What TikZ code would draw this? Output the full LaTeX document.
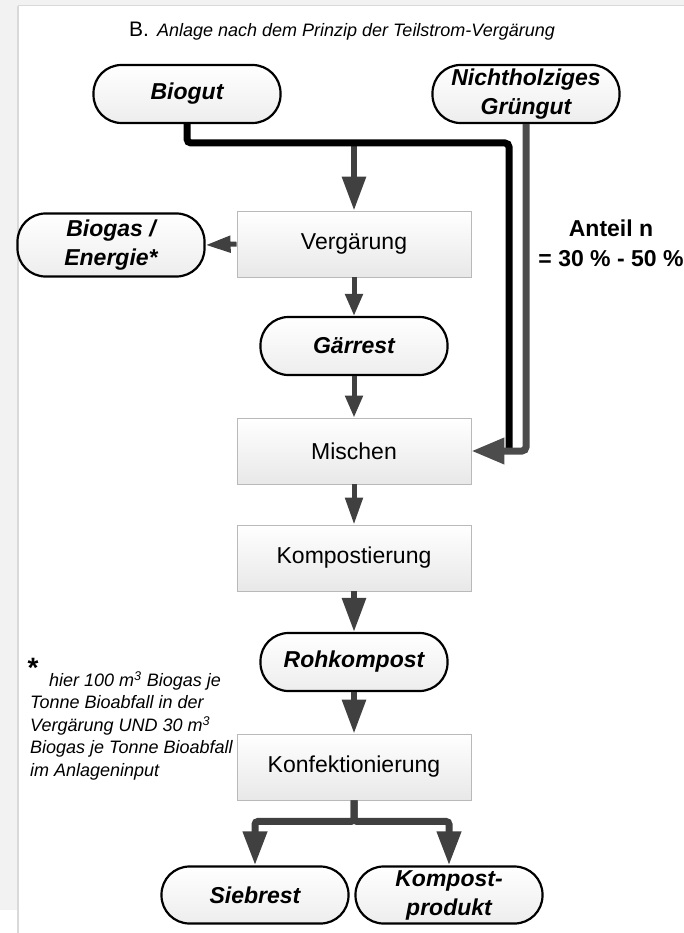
\documentclass[tikz,border=0pt]{standalone}
\usepackage{fontspec}
\setmainfont{Liberation Sans}
\usetikzlibrary{arrows.meta}

\tikzset{
  box/.style={draw=gray!55, line width=0.9pt, top color=white, bottom color=gray!18,
    minimum width=234pt, minimum height=66pt, font=\fontsize{23}{26}\selectfont},
  pill/.style={draw=black, line width=2.2pt, rectangle, rounded corners=28pt,
    top color=white, bottom color=gray!14, minimum width=187pt, minimum height=58pt,
    inner sep=1pt, align=center, font=\fontsize{23}{29}\selectfont\bfseries\itshape},
  flow/.style={draw=black!75, line width=6pt, -{Triangle[length=34pt,width=23pt]}},
  thinflow/.style={draw=black!75, line width=5pt, -{Triangle[length=22pt,width=17pt]}},
  feed/.style={line width=7pt, rounded corners=4pt},
}

\begin{document}
\begin{tikzpicture}[x=1pt, y=-1pt]
  \useasboundingbox (0,0) rectangle (684,933);
  % frame
  \fill[gray!10] (0,0) rectangle (684,6);
  \fill[gray!10] (0,0) rectangle (17,910);
  \draw[gray!30, line width=1.2pt] (18,6) -- (18,933);
  \draw[gray!30, line width=1pt] (18,6) -- (684,6);

  \node[anchor=base west, inner sep=0] (titel) at (129,37)
    {\fontsize{21}{24}\selectfont B.\hspace{8pt}\fontsize{18}{20}\selectfont\itshape Anlage nach dem Prinzip der Teilstrom-Vergärung};

  \node[pill] (biogut) at (187,94) {Biogut};
  \node[pill] (gruengut) at (526,94) {Nichtholziges\\Grüngut};
  \node[box] (verg) at (354,244) {Vergärung};
  \node[pill, minimum height=63pt] (biogas) at (111,245) {Biogas /\\Energie*};
  \node[pill] (gaerrest) at (354,346) {Gärrest};
  \node[box] (mischen) at (354,451) {Mischen};
  \node[box] (kompost) at (354,558) {Kompostierung};
  \node[pill] (rohkompost) at (354,662) {Rohkompost};
  \node[box] (konf) at (354,767) {Konfektionierung};
  \node[pill, minimum height=57pt] (siebrest) at (255,895) {Siebrest};
  \node[pill, minimum height=57pt] (produkt) at (449,895) {Kompost-\\produkt};

  \node[align=center, font=\fontsize{23}{30}\selectfont\bfseries] (anteil) at (611,243)
    {Anteil n\\= 30 \% - 50 \%};

  \node[inner sep=0, font=\fontsize{28}{28}\selectfont\bfseries] (stern) at (33,668) {*};
  \node[anchor=north west, align=left, inner sep=0, font=\fontsize{18}{22.5}\selectfont\itshape] (fussnote) at (30,671)
    {\hspace{19pt}hier 100 m\textsuperscript{3} Biogas je\\Tonne Bioabfall in der\\Vergärung UND 30 m\textsuperscript{3}\\Biogas je Tonne Bioabfall\\im Anlageninput};

  % input lines
  \coordinate (junction) at (509,143);
  \coordinate (merge) at (509,448);
  \draw[flow] (verg.north |- junction) -- (verg.north);
  \draw[feed, black] (biogut.south) |- (junction) -- (merge);
  \draw[feed, black!70, -{Triangle[length=33pt,width=25pt]}] (gruengut.south) |- (mischen.east);

  % main chain
  \draw[flow, line width=5pt, -{Triangle[length=25pt,width=16pt]}] (verg.west) -- (biogas.east);
  \draw[thinflow] (verg.south) -- (gaerrest.north);
  \draw[thinflow] (gaerrest.south) -- (mischen.north);
  \draw[thinflow, -{Triangle[length=27pt,width=17pt]}] (mischen.south) -- (kompost.north);
  \draw[flow] (kompost.south) -- (rohkompost.north);
  \draw[flow] (rohkompost.south) -- (konf.north);
  \draw[flow, line width=7pt, rounded corners=3pt] (konf.south) -- ++(0,21) -| (siebrest.north);
  \draw[flow, line width=7pt, rounded corners=3pt] (konf.south) -- ++(0,21) -| (produkt.north);
\end{tikzpicture}
\end{document}
